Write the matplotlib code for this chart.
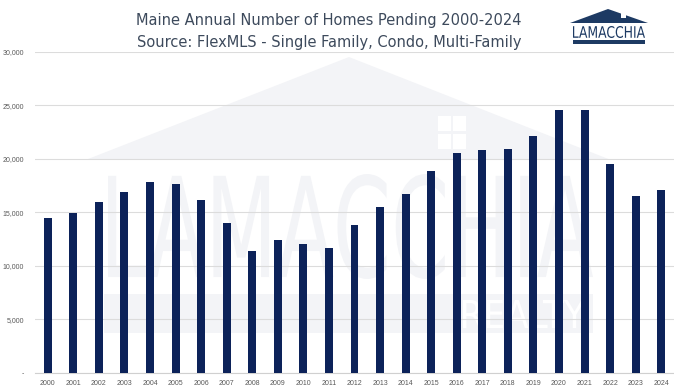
import matplotlib
matplotlib.use("Agg")
import matplotlib.pyplot as plt
from matplotlib.patches import Polygon, Rectangle, PathPatch
from matplotlib.textpath import TextPath
from matplotlib.font_manager import FontProperties
from matplotlib.transforms import Affine2D
from matplotlib.ticker import FuncFormatter

# data
years = [str(y) for y in range(2000, 2025)]
pending = [14480, 14900, 16000, 16910, 17850, 17660, 16190, 13970, 11410, 12440,
           12070, 11660, 13780, 15470, 16690, 18880, 20570, 20850, 20910, 22130,
           24600, 24600, 19500, 16540, 17130]

title_lines = ["Maine Annual Number of Homes Pending 2000-2024",
               "Source: FlexMLS - Single Family, Condo, Multi-Family"]

navy = "#0c2259"
wm = "#f3f4f7"

W, H = 674, 389
fig = plt.figure(figsize=(W / 100, H / 100), dpi=100)


def fit_text(ax, s, x0, y0, x1, y1, color, weight="normal", z=1):
    # squeeze a text path into a pixel box (y grows downwards)
    tp = TextPath((0, 0), s, size=10, prop=FontProperties(family="DejaVu Sans", weight=weight))
    bb = tp.get_extents()
    tr = Affine2D().translate(-bb.x0, -bb.y0).scale((x1 - x0) / bb.width, -(y1 - y0) / bb.height).translate(x0, y1)
    ax.add_patch(PathPatch(tr.transform_path(tp), fc=color, ec="none", zorder=z))


# background: watermark + logo in pixel coords
bg = fig.add_axes([0, 0, 1, 1], zorder=0)
bg.set_xlim(0, W)
bg.set_ylim(H, 0)
bg.axis("off")

bg.add_patch(Polygon([(88, 159), (349, 57), (611, 160)], closed=True, fc=wm, ec="none"))
for wx, wy in [(438, 116), (453, 116), (438, 134), (453, 134)]:
    bg.add_patch(Rectangle((wx, wy), 13, 15, fc="white", ec="none"))
fit_text(bg, "LAMACCHIA", 108, 174, 593, 279, wm)
bg.add_patch(Rectangle((104, 294), 489, 39, fc=wm, ec="none"))
fit_text(bg, "REALTY", 463, 300, 585, 328, "white")

# logo top right
bg.add_patch(Polygon([(570, 23), (608, 9), (648, 23)], closed=True, fc="#1d3a63", ec="none"))
bg.add_patch(Rectangle((621, 13), 5, 5, fc="white", ec="none"))
fit_text(bg, "LAMACCHIA", 573, 26, 645, 38, "#1d3a63")
bg.add_patch(Rectangle((573, 40), 72, 4, fc="#1d3a63", ec="none"))

for i, line in enumerate(title_lines):
    fig.text(329 / W, 1 - (20 + 22 * i) / H, line, ha="center", va="center",
             fontsize=10.5, color="#3d4a5c", family="DejaVu Sans")

# bar chart
ax = fig.add_axes([35 / W, (H - 372.7) / H, (W - 35) / W, (372.7 - 52) / H], zorder=1)
ax.patch.set_alpha(0)
ax.bar(range(len(years)), pending, width=0.31, color=navy, zorder=3)
ax.set_xlim(-0.5, len(years) - 0.5)
ax.set_ylim(0, 30000)
ax.set_yticks(range(0, 30001, 5000))
ax.yaxis.set_major_formatter(FuncFormatter(lambda v, p: "-" if v == 0 else f"{int(v):,}"))
ax.set_xticks(range(len(years)))
ax.set_xticklabels(years)
ax.grid(axis="y", color="#dcdcdc", linewidth=0.8, zorder=0)
for s in ["top", "right", "left"]:
    ax.spines[s].set_visible(False)
ax.spines["bottom"].set_color("#d0d0d0")
ax.tick_params(axis="y", length=0, labelsize=5, labelcolor="#595959", pad=8)
ax.tick_params(axis="x", length=0, labelsize=5, labelcolor="#595959", pad=5)
for lab in ax.get_xticklabels() + ax.get_yticklabels():
    lab.set_family("Liberation Sans")

fig.savefig("out.png", dpi=100)
